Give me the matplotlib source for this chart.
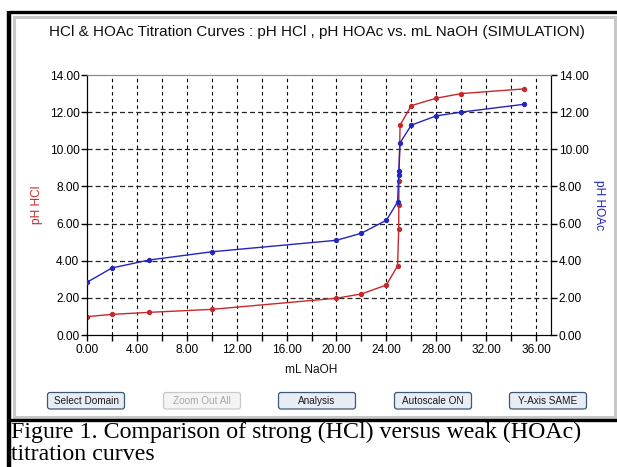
import matplotlib
matplotlib.use("Agg")
import matplotlib.pyplot as plt
from matplotlib.patches import FancyBboxPatch, Rectangle
from matplotlib.ticker import MultipleLocator, FormatStrFormatter

# ---- data ----
ml_hcl = [0, 2, 5, 10, 20, 22, 24, 24.9, 24.99, 25.0, 25.01, 25.1, 26, 28, 30, 35]
ph_hcl = [0.99, 1.11, 1.22, 1.38, 1.98, 2.21, 2.69, 3.72, 5.73, 6.98, 8.30, 11.30,
          12.35, 12.75, 13.00, 13.25]

ml_hoac = [0, 2, 5, 10, 20, 22, 24, 24.9, 24.99, 25.0, 25.1, 26, 28, 30, 35]
ph_hoac = [2.84, 3.61, 4.04, 4.48, 5.10, 5.48, 6.18, 7.16, 8.63, 8.85, 10.35,
           11.30, 11.80, 12.00, 12.42]

title = "HCl & HOAc Titration Curves : pH HCl , pH HOAc vs. mL NaOH (SIMULATION)"
xlabel = "mL NaOH"
ylabel_left = "pH HCl"
ylabel_right = "pH HOAc"
buttons = ["Select Domain", "Zoom Out All", "Analysis", "Autoscale ON", "Y-Axis SAME"]
caption = ["Figure 1. Comparison of strong (HCl) versus weak (HOAc)", "titration curves"]

RED = "#c8282a"
BLUE = "#2424c0"
W, H = 617, 467

fig = plt.figure(figsize=(W / 100, H / 100), dpi=100)
fig.patch.set_facecolor("white")

# ---- background / window decoration in pixel coordinates ----
bg = fig.add_axes([0, 0, 1, 1], zorder=0)
bg.set_xlim(0, W)
bg.set_ylim(H, 0)
bg.axis("off")
bg.add_patch(Rectangle((14, 17), 601, 400, facecolor="white", edgecolor="#c8c8c8", lw=2.2))
bg.plot([9, W], [12, 12], color="black", lw=2.4, solid_capstyle="butt")
bg.plot([9, 9], [11, H], color="black", lw=3.2, solid_capstyle="butt")
bg.plot([9, W], [420, 420], color="black", lw=2.4, solid_capstyle="butt")

bx = [46, 162, 277, 393, 508]
for x0, lab in zip(bx, buttons):
    disabled = lab == "Zoom Out All"
    bg.add_patch(FancyBboxPatch((x0 + 1.5, 392.5), 77, 16.5,
                                boxstyle="round,pad=0,rounding_size=2.5",
                                facecolor="#f4f4f4" if disabled else "#e8ecf4",
                                edgecolor="#c9c9c9" if disabled else "#3d5874",
                                lw=0.9))
    bg.text(x0 + 40, 401, lab, ha="center", va="center", fontsize=7.2,
            family="Liberation Sans",
            color="#a8a8a8" if disabled else "#1a1a1a")

bg.text(317, 32, title, ha="center", va="center", fontsize=11.0,
        family="Liberation Sans", color="#111111")
bg.text(11, 438, caption[0], ha="left", va="baseline", fontsize=17.2,
        family="Liberation Serif", color="black")
bg.text(11, 460, caption[1], ha="left", va="baseline", fontsize=17.2,
        family="Liberation Serif", color="black")

# axis titles
bg.text(311, 370, xlabel, ha="center", va="center", fontsize=8.6,
        family="Liberation Sans", color="#111111")
bg.text(37, 205, ylabel_left, ha="center", va="center", fontsize=8.6,
        family="Liberation Sans", color=RED, rotation=90)
bg.text(599, 205, ylabel_right, ha="center", va="center", fontsize=8.6,
        family="Liberation Sans", color=BLUE, rotation=-90)

# ---- plot area ----
L, R, T, B = 87, 551, 75, 335
ax = fig.add_axes([L / W, 1 - B / H, (R - L) / W, (B - T) / H], zorder=2)
ax.set_facecolor("white")
ax.set_xlim(0, 37.2)
ax.set_ylim(0, 14)

ax.plot(ml_hcl, ph_hcl, color=RED, lw=1.0, marker="o", ms=2.8, mec=RED, mfc=RED, zorder=3)
ax2 = ax.twinx()
ax2.set_ylim(0, 14)
ax2.plot(ml_hoac, ph_hoac, color=BLUE, lw=1.0, marker="o", ms=2.8, mec=BLUE, mfc=BLUE, zorder=3)

for v in range(2, 37, 2):
    ax.axvline(v, color="black", lw=0.8, ls=(0, (3, 3)), zorder=1)
for v in range(2, 14, 2):
    ax.axhline(v, color="#222222", lw=0.9, ls=(0, (4, 2.5)), zorder=1)

ax.set_xticks([v for v in range(0, 37, 4)])
ax.xaxis.set_minor_locator(MultipleLocator(2))
ax.xaxis.set_major_formatter(FormatStrFormatter("%.2f"))
ax.yaxis.set_major_locator(MultipleLocator(2))
ax.yaxis.set_major_formatter(FormatStrFormatter("%.2f"))
ax2.yaxis.set_major_locator(MultipleLocator(2))
ax2.yaxis.set_major_formatter(FormatStrFormatter("%.2f"))

for a in (ax, ax2):
    a.tick_params(axis="both", which="both", direction="out", length=4, width=1,
                  labelsize=8.6, pad=1.5, colors="black")
    for lab in a.get_xticklabels() + a.get_yticklabels():
        lab.set_family("Liberation Sans")
ax.tick_params(axis="x", pad=2.5)
ax2.tick_params(axis="x", bottom=False, labelbottom=False)

for a in (ax, ax2):
    a.spines["top"].set_color("#8a8a8a")
    a.spines["left"].set_color("black")
    a.spines["right"].set_color("black")
    a.spines["bottom"].set_color("black")

fig.savefig("out.png", dpi=100)
